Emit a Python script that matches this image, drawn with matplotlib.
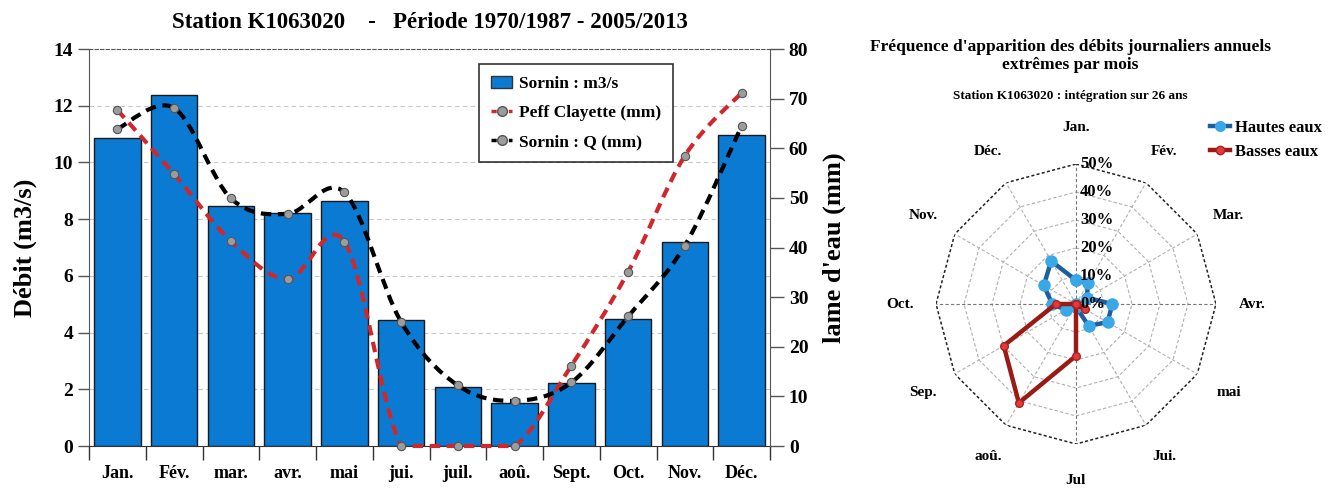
import numpy as np
import matplotlib.pyplot as plt
from matplotlib.path import Path
from matplotlib.patches import PathPatch, Patch
from matplotlib.lines import Line2D
import matplotlib.transforms as mtransforms

plt.rcParams['font.family'] = ['Liberation Serif', 'DejaVu Serif']
plt.rcParams['font.weight'] = 'bold'
plt.rcParams['axes.labelweight'] = 'bold'

# Left chart data
mois = ['Jan.', 'Fév.', 'mar.', 'avr.', 'mai', 'jui.', 'juil.', 'aoû.', 'Sept.', 'Oct.', 'Nov.', 'Déc.']
debit = [10.87, 12.38, 8.48, 8.23, 8.65, 4.43, 2.08, 1.51, 2.22, 4.47, 7.18, 10.97]
peff = [67.7, 54.8, 41.3, 33.6, 41.2, 0, 0, 0, 16.2, 35.1, 58.5, 71.2]
lame_q = [63.9, 68.1, 49.9, 46.8, 51.1, 25.0, 12.2, 9.1, 12.8, 26.1, 40.4, 64.5]

# Radar data (%)
mois_radar = ['Jan.', 'Fév.', 'Mar.', 'Avr.', 'mai', 'Jui.', 'Jul', 'aoû.', 'Sep.', 'Oct.', 'Nov.', 'Déc.']
hautes = [8.5, 8.5, 4.5, 13.0, 13.0, 9.0, 1.0, 0.0, 4.2, 8.5, 13.3, 17.7]
basses = [0.0, 0.0, 0.0, 0.0, 3.8, 0.0, 18.5, 40.8, 29.8, 7.2, 0.0, 0.0]


def smooth_path(x, y):
    # smoothed curve (bezier) through the data points, like excel
    verts = [(x[0], y[0])]
    codes = [Path.MOVETO]
    n = len(x)
    for i in range(n - 1):
        p0 = max(i - 1, 0)
        p3 = min(i + 2, n - 1)
        c1 = (x[i] + (x[i + 1] - x[p0]) / 6, max(0, y[i] + (y[i + 1] - y[p0]) / 6))
        c2 = (x[i + 1] - (x[p3] - x[i]) / 6, max(0, y[i + 1] - (y[p3] - y[i]) / 6))
        verts += [c1, c2, (x[i + 1], y[i + 1])]
        codes += [Path.CURVE4] * 3
    return Path(verts, codes)


fig = plt.figure(figsize=(13.31, 4.9), dpi=100)

ax = fig.add_axes([89 / 1331, 44 / 490, 681 / 1331, 397 / 490])
ax2 = ax.twinx()
x = np.arange(len(mois))

bar_col = '#0B7AD3'
ax.bar(x, debit, width=0.82, color=bar_col, edgecolor='#1a1a1a', linewidth=1.0, zorder=2)
ax.set_xlim(-0.5, 11.5)
ax.set_ylim(0, 14)
ax.set_yticks(np.arange(0, 15, 2))
ax.set_xticks(x)
ax.set_xticklabels(mois)
ax.set_xticks(np.arange(-0.5, 12, 1), minor=True)
ax.tick_params(axis='x', which='major', length=0, pad=14, labelsize=13)
ax.tick_params(axis='x', which='minor', length=10, width=1, color='#333')
ax.tick_params(axis='y', length=8, width=1, color='#555', labelsize=14)
for yv in range(2, 14, 2):
    ax.axhline(yv, color='#c8c8c8', lw=0.8, ls=(0, (4, 3)), zorder=0)
ax.spines['top'].set_linestyle((0, (3, 2)))
ax.spines['top'].set_color('#555')
ax.spines['right'].set_visible(False)
ax.spines['left'].set_color('#555')
ax.spines['bottom'].set_color('#333')
ax.set_ylabel('Débit (m3/s)', fontsize=19, labelpad=12)

ax2.set_ylim(0, 80)
ax2.set_yticks(np.arange(0, 81, 10))
ax2.tick_params(axis='y', length=10, width=1, color='#555', labelsize=14)
for s in ['top', 'left', 'bottom']:
    ax2.spines[s].set_visible(False)
ax2.spines['right'].set_color('#555')
ax2.set_ylabel("lame d'eau (mm)", fontsize=19, labelpad=10)

for serie, col in [(peff, '#D0282A'), (lame_q, '#000000')]:
    patch = PathPatch(smooth_path(x, serie), fill=False, edgecolor=col, lw=3,
                      ls=(0, (2.5, 1.6)), clip_on=False, zorder=3)
    ax2.add_patch(patch)
    ax2.plot(x, serie, 'o', ms=6, mfc='#9c9c9c', mec='#555555', mew=0.8, clip_on=False, zorder=4)

handles = [
    Patch(facecolor=bar_col, edgecolor='#333', label='Sornin : m3/s'),
    Line2D([], [], color='#D0282A', lw=2.5, ls=(0, (1.5, 1)), marker='o', ms=7,
           mfc='#9c9c9c', mec='#555', label='Peff Clayette (mm)'),
    Line2D([], [], color='#000000', lw=2.5, ls=(0, (1.5, 1)), marker='o', ms=7,
           mfc='#9c9c9c', mec='#555', label='Sornin : Q (mm)'),
]
leg = ax2.legend(handles=handles, loc='upper left', bbox_to_anchor=(0.56, 0.985),
                 fontsize=12.5, frameon=True, fancybox=False, handlelength=1.2,
                 borderpad=0.7, labelspacing=0.75, handletextpad=0.4)
leg.get_frame().set_edgecolor('black')
leg.get_frame().set_linewidth(1.2)

fig.text(430 / 1331, 1 - 22 / 490,
         'Station K1063020    -   Période 1970/1987 - 2005/2013',
         ha='center', va='center', fontsize=16.5)

# Radar chart
rax = fig.add_axes([936 / 1331, 46 / 490, 280 / 1331, 280 / 490], projection='polar')
rax.set_theta_zero_location('N')
rax.set_theta_direction(-1)
rax.set_ylim(0, 50)
rax.grid(False)
rax.set_xticks([])
rax.set_yticks([])
rax.spines['polar'].set_visible(False)
rax.patch.set_alpha(0)

theta = np.arange(12) * 2 * np.pi / 12
theta_c = np.append(theta, theta[0])
for r in [10, 20, 30, 40]:
    rax.plot(theta_c, [r] * 13, color='#b0b0b0', lw=0.8, ls=(0, (3, 2)), zorder=1)
rax.plot(theta_c, [50] * 13, color='#222', lw=1.1, ls=(0, (2, 1.5)), zorder=1)
for i, t in enumerate(theta):
    col = '#777' if i % 3 == 0 else '#b0b0b0'
    rax.plot([t, t], [0, 50], color=col, lw=0.8, ls=(0, (3, 2)), zorder=1)

for t, lab in zip(theta, mois_radar):
    rax.text(t, 63, lab, ha='center', va='center', fontsize=11)

off = mtransforms.offset_copy(rax.transData, fig=fig, x=4, y=0, units='dots')
for r in range(0, 51, 10):
    rax.text(0, r, f'{r}%', transform=off, ha='left', va='center', fontsize=12, zorder=6)

h_c = np.append(hautes, hautes[0])
b_c = np.append(basses, basses[0])
rax.plot(theta_c, h_c, color='#1C5F9C', lw=3.2, marker='o', ms=8,
         mfc='#3AA8E6', mec='#3AA8E6', zorder=3, clip_on=False)
rax.plot(theta_c, b_c, color='#9B1B14', lw=3.2, marker='o', ms=5.5,
         mfc='#E03A3A', mec='#B02020', zorder=4, clip_on=False)

rh = [Line2D([], [], color='#1C5F9C', lw=3.2, marker='o', ms=7, mfc='#3AA8E6', mec='#3AA8E6', label='Hautes eaux'),
      Line2D([], [], color='#9B1B14', lw=3.2, marker='o', ms=6, mfc='#E03A3A', mec='#B02020', label='Basses eaux')]
fig.legend(handles=rh, loc='upper left', bbox_to_anchor=(1200 / 1331, 1 - 110 / 490),
           fontsize=12, frameon=False, handlelength=1.2, handletextpad=0.3, labelspacing=0.45,
           borderaxespad=0.2)

fig.text(1070 / 1331, 1 - 56 / 490,
         "Fréquence d'apparition des débits journaliers annuels\nextrêmes par mois",
         ha='center', va='center', fontsize=12.5, linespacing=1.1)
fig.text(1070 / 1331, 1 - 96 / 490, 'Station K1063020 : intégration sur 26 ans',
         ha='center', va='center', fontsize=9.5)

fig.savefig('out.png', dpi=100)
